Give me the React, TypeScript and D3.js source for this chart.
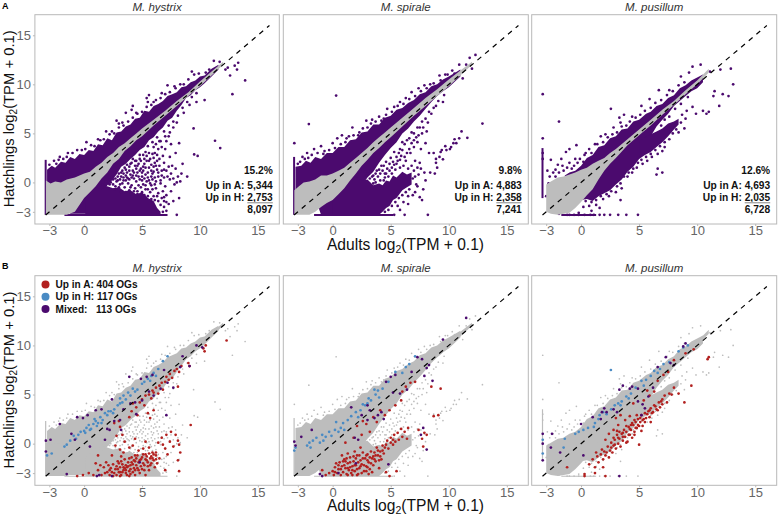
import * as d3 from "d3";
import { useEffect, useRef } from "react";

type Pt = [number, number];
type Env = [number, number, number]; // x, low edge, high edge of a dense part of the cloud

const tickValues = [-3, 0, 5, 10, 15];
const species = ["M. hystrix", "M. spirale", "M. pusillum"];
const floorValue = -3.32;
const diagonal: Pt[] = [[-3.32, -3.32], [16, 16]];

const statPercent = ["15.2%", "9.8%", "12.6%"];
const statUpA = ["5,344", "4,883", "4,693"];
const statUpH = ["2,753", "2,358", "2,035"];
const statTotal = ["8,097", "7,241", "6,728"];

const legendLabels = ["Up in A: 404 OGs", "Up in H: 117 OGs", "Mixed:   113 OGs"];

// M. hystrix
const hystrixMain: Env[] = [[-3.2,-1,1.3],[-2.8,-1,1.7],[-2.5,-1,1.5],[-2,-1.5,2.1],[-1.6,-2,2],[-1.2,-3.2,2.6],[-0.8,-3.2,2.4],[-0.4,-3.2,2.9],[0,-3.2,2.8],[0.4,-3.2,3.3],[0.8,-3.2,3.2],[1.2,-2.6,3.9],[1.6,-1.4,3.8],[2,-0.3,4.5],[2.4,0.2,4.3],[2.8,0.8,5.1],[3.2,1.6,5.2],[3.6,1.9,5.7],[4,2.4,5.9],[4.4,2.8,6.5],[4.8,3.3,6.6],[5.2,3.6,7.3],[5.6,4.3,7.2],[6,4.6,7.8],[6.4,5.2,8],[6.8,5.6,8.3],[7.2,6.3,8.8],[7.6,6.6,9],[8,7.3,9.2],[8.4,7.9,9.7],[8.8,8.6,9.8],[9.2,8.9,10.2],[9.6,9.4,10.4],[10,9.7,10.8],[10.4,10.1,10.9],[11,10.8,11.6],[11.6,11.5,12]];
const hystrixLower: Env[] = [[0.1,-3.3,-1.4],[0.6,-3.3,-0.9],[1,-3.3,-0.5],[1.5,-3.3,-0.7],[2,-3.3,-0.4],[2.5,-3.3,-0.6],[3,-3.3,-0.5],[3.5,-3.3,-0.9],[4,-3.3,-0.8],[4.5,-3.3,-1.2],[5,-3.3,-1],[5.5,-3.3,-1.6],[6,-3.3,-1.9],[6.3,-3.3,-2.6],[6.6,-3.3,-3]];
const hystrixBand: Env[] = [[-3.3,-3.3,0.2],[-2.9,-3.3,-0.1],[-2.5,-3.3,0.1],[-2,-3.3,0],[-1.5,-3.3,0.3],[-0.8,-3,0.5],[0,-1.6,0.9],[0.5,-1,1.1],[1,-0.4,1.6],[1.5,0.4,2],[2,1,2.6],[2.5,1.9,3],[3,2.4,3.6],[3.5,3.2,4],[4,3.7,4.5],[4.5,4.3,5],[5,4.7,5.5],[6,5.8,6.4],[7,6.8,7.3],[8,7.8,8.3],[9,8.8,9.2],[10,9.8,10.3],[11,10.9,11.3],[12,12,12.3]];
const hystrixWallY: Pt = [-3.3, 2.3];
const hystrixWallX: Pt = [-1.7, 7.2];
const hystrixPoints: Pt[] = [[-2.6,2.2],[-2.1,2.6],[-1.4,3],[-0.6,3.3],[0.2,4.1],[0.6,3.8],[1.2,4.4],[1.9,5.2],[2.4,5.2],[2.8,6.3],[3,6],[3.3,6.1],[3.6,7.1],[4.1,7.4],[4.2,7.8],[4.5,7.1],[5.5,8.2],[5.4,8.6],[5.6,8.9],[6,8.2],[6.7,9.1],[7.2,9.9],[7.8,9.8],[8.3,10],[9.3,11.3],[9.5,11],[10.1,10.6],[10.5,11.2],[11.2,12.4],[11.7,12.3],[12.2,11.5],[12.4,11.7],[13,11.9],[13.3,12.2],[13.2,11.5],[12.8,9],[13.9,10.4],[12.6,10.9],[9.45,5.5],[11.3,4.25],[11.75,3.5],[9.5,2.85],[9.8,2.7],[8.5,1.9],[8,-3.3],[8.4,0.9],[8.9,0.6],[10.4,8.4],[9.7,8.2],[9.1,7.9],[8.6,7.1],[8,6.1],[7.7,5.6],[7.4,5.1],[7,4.7],[6.6,4.2],[6.2,3.9],[5.6,3],[5.2,2.4],[4.8,2.8],[4.4,1.7],[4.1,2],[3.7,1],[3.4,0.5],[2.9,0.2],[2.5,-0.2],[2.2,0.3],[1.8,-0.4],[3.1,-0.2],[3.8,-0.1],[4.3,0.4],[4.7,-0.3],[5,0.6],[5.4,0.1],[5.9,0.9],[6.3,1.3],[6.7,0.7],[7.1,1.2],[7.5,0.9],[7.9,1.4],[8.1,0.6],[8.3,0.1],[7.8,-0.2],[7.4,0.3],[7,-0.4],[6.6,-0.1],[6.2,-0.6],[5.8,-0.3],[5.3,-0.7],[4.9,-0.5],[4.4,-0.6],[3.9,-0.8],[3.5,-0.5],[7.5,-0.9],[7.1,-1.3],[6.7,-1.6],[6.4,-1.1],[6,-1.4],[5.7,-1],[7.7,-1.9],[8.2,-1.6],[7.3,-2.2],[6.9,-2.5],[6.3,2.2],[5.8,1.8],[5.1,1.6],[4.6,1],[4,0.8],[5.5,1],[6.9,2],[7.4,2.6],[7.9,3],[8.2,4],[6.1,3],[5.3,3.1],[4.5,2.2],[3.6,0.2],[3.2,0.6],[2.7,-0.4],[2.1,-0.1]];
const hystrixSpeckle: Pt[] = [[2.4,0.6],[2.7,0.4],[3,0.9],[3.3,1.2],[3.6,1.3],[3.9,1.6],[4.2,1.2],[4.2,2.4],[4.5,1.4],[4.7,1.9],[4.9,2.2],[5,1],[5.2,1.9],[5.4,2.7],[5.6,1.5],[5.7,2.4],[5.9,2.9],[6,3.6],[6.1,2],[6.3,2.8],[6.4,3.4],[6.5,4.2],[6.7,3.6],[6.8,2.7],[7,3.4],[7.1,4.2],[7.3,4.7],[7.5,3.9],[3,-0.5],[3.3,-0.1],[3.6,0.7],[3.8,0.4],[4.1,-0.3],[4.2,0.7],[4.5,0.1],[4.8,0.3],[4.9,1.4],[5.2,0.4],[5.3,-0.3],[5.5,0.5],[5.7,-0.1],[5.9,0.3],[6.1,0.5],[6.1,-0.2],[6.4,0.6],[6.5,1.7],[6.6,0.2],[6.9,0.5],[6.9,1.3],[7.2,0.6],[7.3,1.6],[7.6,1.7],[7.7,0.4],[8,0],[3.2,-1],[3.6,-1],[4,-1.2],[4.3,-0.9],[4.6,-1.2],[5,-1],[5.2,-1.3],[5.5,-1.4],[5.8,-1.7],[6.1,-1.8],[6.4,-1.9],[6.6,-2.3],[6.9,-1.9],[7.1,-2],[6.8,-3],[7.1,-2.9],[2.6,-0.7],[2.2,-0.2],[1.9,0.1],[1.6,-0.2],[1.4,-0.3],[-3,1.8],[-2.4,1.9],[-2.2,2.3],[-1.8,2.4],[-1.5,2.6],[-1,3],[-0.2,3.3],[0.1,3.4],[0.9,3.7],[1.4,4.3],[1.7,4.4],[2.2,4.9],[2.6,5],[3,5.6],[3.4,5.8],[3.8,6.2],[4.2,6.6],[4.6,7],[5,7.2],[5.4,7.7],[5.8,7.9],[6.2,8.4],[6.6,8.6],[7,9],[7.4,9.2],[7.9,9.6],[8.6,10],[9,10.5],[9.9,11.1],[10.8,11.5],[6.9,5.2],[7.3,5.8],[7.7,6.2],[8.1,6.8],[8.5,7.6],[8.9,8.2],[9.3,8.7],[9.7,9.1],[6.3,4.6],[5.9,4.1],[5.5,3.7],[2.3,0],[2.5,0.3],[2.8,0.1],[2.9,0.6],[3.1,0.3],[3.2,1],[3.4,0.2],[3.4,0.9],[3.5,1.5],[3.7,0.5],[3.7,1.8],[3.9,0.3],[3.9,1.2],[4,1.9],[4.1,0.5],[4.3,1],[4.4,2.2],[4.5,0.7],[4.6,1.7],[4.7,0.6],[4.8,1.2],[4.8,2.4],[5,0.2],[5.1,1.2],[5.1,2.8],[5.3,0.8],[5.3,1.5],[5.4,2.2],[5.6,0.2],[5.6,2.2],[5.8,0.6],[5.8,1.2],[6,1.1],[6,1.6],[6,2.5],[6.2,0.1],[6.2,1.7],[6.4,1],[6.5,2.4],[6.7,1.2],[4,-0.5],[4.6,-0.9],[5.1,-0.2],[5.5,-0.7],[5.9,-0.7],[6.3,-1.4],[6.8,-0.9],[6.9,-1.5]];

// M. spirale
const spiraleMain: Env[] = [[-3.2,-1,1.6],[-2.7,-1,1.7],[-2.3,-1,2.2],[-1.9,-1,2],[-1.5,-1.6,2.6],[-1,-3.3,2.4],[-0.5,-3.3,3],[0,-3.3,3],[0.5,-3.3,3.6],[1,-2.5,3.6],[1.5,-1.9,4.3],[2,-1,4.4],[2.5,-0.3,5.1],[3,0.5,5.2],[3.5,1.1,5.9],[4,2,5.9],[4.5,2.8,6.6],[5,3.5,6.8],[5.5,4.1,7.4],[6,5,7.6],[6.5,5.5,8.1],[7,6.2,8.4],[7.5,6.8,9],[8,7.5,9.2],[8.5,8.2,9.8],[9,8.8,10],[9.5,9.3,10.5],[10,9.7,10.8],[11,10.8,11.5]];
const spiraleLower: Env[] = [[0,-3.3,-1],[0.5,-3.3,-0.2],[1,-3.3,0.3],[1.5,-3.3,0.2],[2,-3.3,0.6],[2.5,-3.3,0.2],[3,-3.3,0.3],[3.5,-3.3,-0.3],[4,-3.3,-0.1],[4.3,-3,-0.3],[4.6,-2.6,0.2],[4.9,-2.4,0.1],[5.2,-1.8,0.7],[5.5,-1.6,0.5],[6,-0.8,1.1],[6.4,-0.5,0.8],[6.8,-0.2,1]];
const spiraleBand: Env[] = [[-3.3,-3.3,-0.8],[-2.9,-3.3,-0.4],[-2.5,-3.3,0],[-2,-3.3,0.1],[-1.5,-3,0.3],[-1,-2.5,0.7],[-0.5,-2.1,0.7],[0,-1.8,0.9],[0.5,-1.2,1.2],[1,-0.6,1.5],[1.5,0.2,2],[2,0.9,2.5],[2.5,1.7,3],[3,2.3,3.5],[3.5,3,4.1],[4,3.5,4.6],[4.5,4.1,5.1],[5,4.6,5.6],[6,5.7,6.6],[7,6.8,7.6],[8,7.8,8.6],[9,8.8,9.5],[10,9.8,10.5],[11,10.9,11.4],[12,12,12.3]];
const spiraleWallY: Pt = [-3.3, 2.6];
const spiraleWallX: Pt = [-1.6, 5.2];
const spiralePoints: Pt[] = [[-2.05,5.95],[0.3,8.85],[12.9,6],[-3.3,4],[11.6,4.55],[11.1,5.2],[10.4,4],[10.65,4],[9.8,3.3],[10.1,3.4],[9.2,2.6],[9.5,2.35],[8.9,2.4],[8.7,3],[8.3,3],[9,1.5],[7.9,1],[7.6,1.4],[7.4,0.8],[8,0.2],[7.8,-0.7],[7.2,-0.2],[7.7,-1.8],[6.5,-2.2],[5.8,-2.8],[5.3,-3.3],[6.2,-3.3],[8.2,-3.3],[-2.6,2.6],[-2.2,3],[-1.6,3.4],[-1,3.7],[-0.7,3.2],[0,4],[0.4,4.5],[0.8,4.8],[1.2,4.5],[1.7,5.6],[2.3,5.1],[2.9,6.3],[3.4,6.4],[4,6.7],[4.4,6.5],[4.7,7.5],[5.3,7.7],[5.8,8.2],[6.3,8.6],[6.8,9.2],[7.4,9.6],[7.9,9.9],[8.4,10],[9.2,10.9],[9.7,11],[10.3,11.4],[10.9,12],[11.5,12],[11.2,10.6],[12,11.6],[11.8,12.7],[12.3,13],[9.5,8.2],[8.9,7.8],[8.5,7],[8,6.5],[7.5,5.6],[7,5],[6.6,4.5],[6.2,3.9],[5.8,3.4],[5.3,3.1],[5,2.5],[4.6,2.1],[4.2,1.7],[3.8,1.2],[5.5,1.9],[6.3,2.2],[6.7,3],[5.9,2.7],[5.1,1.5],[4.5,0.9],[3.5,0.7],[3,0.9],[7.1,2.2],[7.6,3.4],[8,4],[8.1,5.2],[7.3,4.1]];
const spiraleSpeckle: Pt[] = [[-3,1.9],[-2.8,2.1],[-2.4,2.4],[-2.1,2.5],[-1.8,2.8],[-1.3,3],[-0.8,2.9],[-0.3,3.3],[0.2,3.5],[0.7,3.9],[1.1,4.1],[1.4,4.7],[1.8,4.8],[2.2,4.8],[2.6,5.5],[3,5.6],[3.3,6],[3.7,6.2],[4.2,6.3],[4.6,6.9],[5.1,7.2],[5.6,7.8],[6.1,8],[6.6,8.5],[7.1,8.8],[7.6,9.3],[8.1,9.6],[8.7,10.1],[9.3,10.4],[9.9,11],[10.5,11.1],[3.2,0.4],[3.6,0.3],[3.9,0.6],[4.1,0.9],[4.3,1.2],[4.7,1.4],[4.9,1.9],[5.2,2.1],[5.5,2.6],[5.7,3],[6,3.3],[6,4.1],[6.4,3],[6.4,4.3],[6.8,4],[6.8,5.1],[7.2,4.6],[7.3,5.6],[7.7,5],[7.7,6.2],[8.2,6.1],[8.3,7.2],[8.7,7.6],[9.1,8.3],[9.6,8.9],[4.4,0.2],[4.8,0.6],[5.1,0.9],[5.4,1.3],[5.8,1.5],[6.1,1.7],[6.5,1.4],[6.8,1.7],[7,1.2],[7.3,1.5],[7.5,2],[6.9,0.4],[7.1,0.6],[7.3,-0.4],[6.6,-0.7],[6.3,-1],[6,-1.3],[5.7,-1.6],[5.4,-2],[5.1,-2.4],[4.8,-2.8],[4.5,-3],[6.5,-1.4],[6.9,-1.3],[7.1,-1],[7.5,-1.5],[6.1,-2],[5.6,-2.4],[8.4,1],[8.8,0.9],[8.9,2],[9.3,3.1],[9.7,3.7],[9.4,3.3],[10.2,3.6],[10.5,4.4],[10.9,4.5],[3.5,-0.1],[2.9,0.7],[2.4,1.1],[2.8,1.1],[2.1,1],[1.6,0.6],[3.3,1.2],[3.1,0.9],[3.4,0.6],[3.7,0.9],[4,1.3],[4.4,1.7],[4.6,0.9],[4.9,1.2],[5.3,1.8],[5.6,2.2],[5.8,2.3],[6.2,2.6],[6.6,3.4],[7,3.6],[7,4.3],[7.4,4.8],[7.8,5.6],[3.7,0],[4.1,0.2],[4.5,0.5]];

// M. pusillum
const pusillumMain: Env[] = [[-1.4,-0.3,0.7],[-1,-0.5,1],[-0.5,-0.9,1.2],[0,-1.8,1.7],[0.5,-1.7,2.5],[1,-1.9,2.8],[1.5,-1.4,3.6],[2,-1.1,3.8],[2.5,-0.8,4.5],[3,-0.2,4.7],[3.5,0.3,5.4],[4,1.1,5.5],[4.5,1.6,6.2],[5,2.4,6.4],[5.6,3.6,7],[6,4.7,7.2],[6.5,5.7,7.8],[7,6.4,8],[7.5,7,8.6],[8,7.8,8.9],[8.5,8.3,9.6],[9,8.8,9.9],[9.5,9.3,10.4],[10,9.6,10.7],[10.5,10.2,11]];
const pusillumRidge: Env[] = [[5,2.4,4.2],[5.5,2.8,4.6],[6,3.1,4.9],[6.5,3.6,5.2],[7,4.1,5.5],[7.5,4.7,6],[8,5.4,6.2],[8.4,5.9,6.5]];
const pusillumBand: Env[] = [[-3,-3,-0.2],[-2.6,-3.2,0.1],[-2,-3.3,0.5],[-1.5,-3.2,0.6],[-1,-3.1,0.8],[-0.5,-2.6,1],[0,-2,1.3],[0.5,-1.3,1.5],[1,-0.7,1.9],[1.5,0.3,2.2],[2,1.2,2.5],[2.5,1.9,3],[3,2.5,3.4],[4,3.8,4.4],[5,4.8,5.4],[6,5.8,6.4],[7,6.9,7.4],[8,7.9,8.3],[9,9,9.4],[10,10,10.4],[11,11.2,11.6]];
const pusillumWallY: Pt = [-1.6, 3.5];
const pusillumWallX: Pt = [-1.7, 1.3];
const pusillumPoints: Pt[] = [[-3.3,9],[-1.9,6.2],[2.57,7.5],[-3.3,4.5],[-2.6,2.3],[-2,1.8],[-1.7,2.4],[-1.3,3.1],[-1,3.4],[-0.4,3.8],[-1.5,1.2],[-2.4,1],[-2.2,0.6],[-0.8,1.4],[-0.3,2],[0.3,2.8],[0.7,3.4],[1.2,3.9],[1.7,4.7],[2.1,4.9],[2.8,5.6],[3.4,6.1],[3.3,6.6],[3.7,6.9],[4.4,6.7],[5.2,7.8],[5.9,8.5],[6.7,9.4],[7.6,9.4],[8.6,10.8],[9.3,11.2],[9.6,11.8],[10.3,12],[11.1,11.3],[12,11.5],[12.9,11.6],[13.1,10],[11.5,9.3],[11.4,8.8],[12.2,9],[12.7,8.8],[11.9,7.8],[11,7.2],[10.8,7],[10.5,7.3],[9.9,7],[9,6.5],[9.6,7.7],[9.1,7.3],[8.7,6.9],[7.7,5.2],[8.4,5.1],[8.9,5.5],[7.2,3.6],[7,3.2],[6.6,2.9],[6.1,2.6],[5.7,2.2],[5.3,1.9],[4.8,1.5],[4.4,1],[4,0.6],[3.5,-0.6],[3,-1],[2.4,-1.4],[1.9,-1.7],[1.3,-2.3],[0.7,-2.4],[3.4,-1.8],[1.6,-2.6],[6.6,1.4],[7,1],[6.5,0.8],[-1.2,-3.3],[1.6,-3.3],[2,-3.3],[2.5,-3.3],[3.2,-3.3],[3.9,-3.3],[4.9,-3.3],[0.9,-2.9],[-0.2,-3.1]];
const pusillumSpeckle: Pt[] = [[-2.2,1.3],[-1.9,1],[-1.6,1.7],[-1.2,1.5],[-1,2],[-0.6,1.7],[-0.5,2.4],[-0.1,2.4],[0.2,2.1],[0.4,3],[0.9,3],[1.4,3.9],[1.9,4.1],[2.3,4.6],[2.7,4.9],[3.1,5.1],[3.5,5.7],[3.9,5.8],[4.2,6.2],[4.7,6.6],[5.1,6.9],[5.5,7.3],[6,7.6],[6.4,8.1],[6.9,8.4],[7.4,8.9],[7.9,9.3],[8.4,9.9],[8.9,10.2],[0.4,-1.9],[0.9,-2],[1.3,-1.8],[1.7,-1.4],[2.2,-1.2],[2.6,-0.9],[3.1,-0.4],[3.4,-0.1],[3.7,0.6],[4.1,1],[4.5,1.4],[4.9,2],[5.2,2.3],[5.6,2.6],[6,2.9],[6.4,3.3],[6.8,3.7],[7.2,4.1],[7.6,4.4],[7.9,5],[8.2,5.4],[8.6,6.1],[6.9,5.8],[7.2,6.4],[7.6,6.7],[8.1,7.5],[8.6,8],[9.2,8.7],[-3.3,3],[-3.3,2.4],[-2.9,1.2],[-2.7,0.6],[-2.8,-0.1],[-3,-1.4],[-2.6,-2.6],[-1.9,-3.2],[-1,-3.3],[-0.6,-3.3],[-0.2,-3.3],[0.3,-3.3],[0.8,-3.3],[1.1,-3.3],[0.2,-2.5]];

// Orthologous groups, panel B
const hystrixRed: Pt[] = [[4.2,4.1],[4.5,3.7],[4.8,4.2],[5,4.5],[5.2,3.9],[5.3,4.9],[5.6,5],[5.8,4.6],[5.9,5.4],[6,5.2],[6.2,5.7],[6.4,5.1],[6.5,5.9],[6.7,6.2],[6.8,5.5],[7,6.3],[7.1,6.8],[7.3,6.5],[7.4,7.1],[7.6,6.7],[7.8,7.4],[8,7.6],[8.2,7.3],[8.4,7.9],[8.1,5.8],[9.1,7.9],[9,8.2],[10.3,9.7],[10.5,10],[10.4,9.4],[12.3,10.5],[9.2,1.9],[5.5,3.1],[6,3.4],[5.7,2.6],[4.6,2.9],[4.1,3.3],[3.9,2.7],[3,2.3],[3.1,1.7],[2.6,2.1],[2.8,0.8],[3.3,0.9],[2.7,-0.2],[3.1,-0.6],[3.5,0.2],[3.4,-0.9],[3.9,-0.4],[4.2,-0.2],[4.4,0.5],[4.7,-0.7],[5.1,-0.5],[5.3,0.2],[5.6,-0.4],[6.4,0.1],[6.7,0.6],[7.1,0.9],[7.5,1.2],[7.9,0.9],[8.1,0.3],[8.2,-0.1],[7.7,-0.3],[7.4,0.2],[7,-0.5],[6.8,-0.1],[7.2,-1.1],[8.1,-1.7],[8.3,-0.9],[6.2,-1.2],[6.5,-1.5],[1,-2],[1.2,-2.7],[1.5,-3.2],[1.7,-2.4],[1.9,-1.9],[2,-2.9],[2.2,-3.2],[2.3,-2.5],[2.5,-2.1],[2.6,-3],[2.7,-2.6],[2.9,-1.8],[3,-2.9],[3.1,-2.4],[3.2,-3.2],[3.3,-2.1],[3.4,-2.7],[3.5,-1.6],[3.6,-3],[3.7,-2.4],[3.8,-1.9],[3.9,-2.8],[4,-2.2],[4.1,-1.4],[4.2,-2.9],[4.3,-2.5],[4.4,-1.8],[4.5,-2.2],[4.6,-1.2],[4.7,-2.7],[4.8,-1.7],[4.9,-2.3],[5,-1.4],[5.1,-2],[5.2,-2.7],[5.3,-1.1],[5.4,-1.7],[5.5,-2.3],[5.6,-1],[5.7,-1.5],[5.8,-2],[5.9,-0.9],[6,-1.7],[6.1,-2.4],[6.2,-1.6],[6.3,-2],[2.1,-2.2],[2.8,-3.2],[3.3,-2.9],[3.6,-2.2],[4,-3.1],[4.4,-2.7],[4.8,-3],[5.3,-3.2],[5.6,-2.7],[4.1,-1.9],[4.5,-1.5],[3.2,-1.3],[2.4,-1.2],[1.2,-1.2],[0.8,-3.2],[-0.6,-3.3],[-0.1,-3.2],[0.4,-3],[3.9,-3.3],[2.5,-3.3],[3.1,-3.3],[7,-2.7],[8.2,-2.8],[2.4,-2.9],[2.8,-2.3],[3,-2],[3.4,-2.4],[3.6,-2.7],[3.8,-2.3],[4,-2.6],[4.2,-2.1],[4.3,-1.7],[4.6,-2.5],[4.7,-1.9],[4.9,-1.6],[5,-2.6],[5.2,-2.2],[5.4,-1.3],[5.5,-1.9],[5.7,-2.2],[5.8,-1.3],[6,-1.1],[4.4,-3.2],[3.7,-3.2],[3.5,-2.5],[3.1,-2.9],[2.9,-2.6],[2.2,-2.7],[1.8,-3],[1.4,-2.2],[3.2,-1.8],[3.9,-1.5],[4.4,-1.2],[5.1,-1.1],[5.3,-1.6],[5.9,-1.5],[6.2,-0.9]];
const hystrixBlue: Pt[] = [[-3.2,-1.2],[-2.8,-1],[-1.7,-0.3],[-1.5,-0.1],[-1.2,0.3],[-0.9,0.8],[-0.7,0.5],[-0.3,1.2],[0,1.3],[0.2,1.6],[0.4,1.9],[0.6,1.5],[0.8,2],[1,2.3],[1.2,2.1],[1.4,2.7],[1.6,2.4],[1.8,3.1],[2,2.9],[2.3,3.3],[2.6,3.5],[2.9,3.9],[3.1,4.6],[3.4,4.9],[3.6,4.5],[3.8,5.2],[4.2,5.6],[4.6,5.5],[5,6.1],[5.5,6.6],[6,7.2],[6.4,7.6],[6.8,8.4],[7.2,8.9],[-0.5,0.9],[0.9,2.5],[3.3,4.2],[5.8,6.9],[0.1,1.1],[0.5,1.4],[1.1,1.8],[1.5,2.1],[2.1,3.3],[2.5,3.1],[3.1,4.1],[4,4.9],[4.4,5.3],[5.2,6.3],[5.7,6.4],[6.2,6.9]];
const hystrixMixed: Pt[] = [[-3.3,0.3],[-3.3,-0.8],[-2.9,0.4],[-2.1,2],[-1.1,1],[-0.8,0.4],[-0.6,2.7],[-0.1,2.6],[0.3,2.9],[0.5,-0.3],[1,3.4],[1.5,3.5],[2,1.5],[2.6,2.3],[2.4,4.5],[3.2,1.4],[3.4,3.5],[3.9,6.8],[4.5,3],[4.4,4.2],[4.9,6.6],[5.4,6.8],[5.9,7],[6,4.9],[6.6,5.6],[7.2,6.2],[7.7,5.7],[8.3,7.8],[9.1,7.9],[8.5,8.9],[9.7,10],[10.2,9.8],[1.1,-3.3],[-1.5,-3.1],[2.2,1.4],[3.1,2.4],[2.4,-3.3],[7.1,2.9],[4.8,-1.9],[6.9,7.5],[4,4.1],[5,4.4],[5.6,5.3],[1.8,0.4],[1.3,-3.2]];
const spiraleRed: Pt[] = [[-0.9,-2.7],[-0.6,-3.2],[-0.3,-3],[0,-2.8],[0.1,-3.2],[0.2,-2.4],[0.4,-3],[0.5,-2.6],[0.6,-1.9],[0.7,-3.2],[0.8,-2.3],[0.9,-2.9],[1,-1.6],[1.1,-2.5],[1.2,-3.1],[1.3,-2],[1.4,-2.7],[1.5,-1.4],[1.6,-3],[1.7,-2.3],[1.8,-1.8],[1.9,-2.8],[2,-2.2],[2.1,-1.2],[2.2,-3.1],[2.3,-2.5],[2.4,-1.7],[2.5,-2.1],[2.6,-0.9],[2.7,-2.8],[2.8,-1.5],[2.9,-2.3],[3,-1.1],[3.1,-1.9],[3.2,-2.6],[3.3,-0.8],[3.4,-1.5],[3.5,-2.2],[3.6,-0.9],[3.7,-1.8],[3.8,-0.4],[3.9,-1.2],[4,-2.5],[4.1,-0.8],[4.2,-1.6],[4.3,-0.2],[4.4,-1],[4.5,-0.4],[4.6,-2.9],[4.7,0.3],[4.8,-0.5],[4.9,-3.3],[5,0.6],[5.2,-0.1],[5.3,0.9],[5.4,0.2],[5.6,1.1],[5.7,0.4],[5.9,1.5],[6,0.7],[6.2,1.2],[6.4,0.5],[6.5,1.6],[5.5,-2.8],[0.3,-2],[1.3,-3.2],[2.5,-3],[3.1,-3.1],[1.5,-2.4],[2.9,-1.2],[3.4,-2.9],[2,-1.5],[0.8,-1.2],[1.9,-0.8],[2.4,-0.4],[1.8,0.6],[2.5,0.9],[2.1,1.8],[2.9,2],[3.2,1.2],[3.5,2.7],[3.8,2.2],[4.1,3.4],[4.5,2.9],[4.9,3.4],[5.4,3.9],[5.9,4.4],[6,5.3],[6.3,5.8],[6.7,6.2],[7.1,6.3],[8.5,5.8],[9.3,5.6],[8.7,2.8],[9.1,2.9],[7.4,1.4],[7.9,1.1],[7.7,0.5],[8.1,0.9],[7.8,-0.3],[2.6,2.3],[1.3,-1],[1.1,0.1],[0.2,-2.9],[0.5,-2.2],[0.7,-2.6],[1,-2.2],[1.1,-1.8],[1.3,-2.5],[1.5,-1.9],[1.7,-2.7],[1.9,-2.2],[2.1,-2.6],[2.2,-1.9],[2.4,-2.3],[2.6,-1.5],[2.7,-2.2],[2.9,-2.8],[3,-1.7],[3.2,-1.4],[3.3,-2],[3.5,-1.3],[3.7,-1.2],[3.9,-0.7],[4.1,-1.3],[4.3,-0.7],[2.3,-1.2],[1.8,-1.3],[1.2,-1.5],[0.9,-1.8],[2.1,-3.2],[1.7,-3.2],[3,-2.4],[3.6,-1.6],[4,-1.7],[4.6,-0.1],[5,0.1],[5.2,0.4]];
const spiraleBlue: Pt[] = [[-3.3,-0.7],[-3.2,-0.4],[-2.2,-0.2],[-2,0.1],[-1.7,0.3],[-1.4,0.6],[-1.1,0.1],[-0.9,0.9],[-0.6,0.7],[-0.3,1.2],[-0.1,0.8],[0.2,1.4],[0.3,2.2],[0.7,1.6],[0.9,2.1],[1.3,2.4],[1.6,2.8],[2,3.2],[2.4,3.4],[2.8,3.9],[3.1,4.6],[3.3,4.4],[3.7,5],[4,4.7],[4.3,5.6],[4.8,6.3],[5.4,7.3],[6,7.2],[6.3,7.8],[7.1,8.9],[3.6,5.5],[1,1.4],[-1.9,-0.4],[-0.8,0.3],[0.5,1.2],[2.2,2.7],[2.6,4],[3,4.1],[3.9,5.4],[6.6,8.1]];
const spiraleMixed: Pt[] = [[-3.3,0.2],[-3.2,-0.2],[-1.8,1.4],[-2.7,0.7],[-0.9,-3.3],[-1.1,-3.1],[0.5,-3],[1.6,3.7],[1.9,0.6],[2.2,0.4],[2.5,2.9],[3,2.4],[3.2,3.4],[3.6,2.6],[3.9,2.9],[4.2,3.2],[4.4,2.5],[4.6,6.3],[5,6.8],[5.4,7],[5.2,5.2],[5.8,5.1],[6.4,5.5],[6.8,7.3],[7.3,8.8],[7.7,8.6],[7.9,6.9],[8.1,7.7],[8.6,6.4],[8.3,8],[9.5,10.6],[11.5,12.8],[7.8,1.6],[7.6,0.9],[8.1,-0.6],[4.8,-2.1],[3,3.9],[2,-2]];
const pusillumRed: Pt[] = [[0.7,-2.1],[1,-1.6],[1.2,-2.4],[1.3,-0.9],[1.4,-1.3],[1.5,-1.9],[1.7,-1.1],[1.8,-0.6],[1.9,-1.6],[2,-0.8],[2.1,-1.2],[2.3,-0.3],[2.4,-1.4],[2.5,-0.7],[2.6,0.1],[2.7,-0.9],[2.8,-0.2],[2.9,0.4],[3,-0.5],[3.1,0.9],[3.2,0],[3.3,0.5],[3.4,-0.3],[3.5,1],[3.6,0.3],[3.7,1.4],[3.8,0.7],[3.9,1.2],[4,0.2],[4.1,1.7],[4.2,0.9],[4.3,1.4],[4.4,0.6],[4.5,1.9],[4.6,1.2],[4.7,2.2],[4.8,1.6],[4.9,2.5],[5,1.8],[5.1,2.2],[5.2,2.9],[5.3,1.8],[5.4,2.5],[5.5,3.1],[5.6,2.6],[5.8,3.3],[5.9,2.7],[6,3.6],[6.2,3.2],[6.3,3.9],[6.5,3.5],[6.7,4.2],[6.8,3.7],[7,4.5],[7.2,4.9],[7.4,4.2],[7.6,5.1],[7.8,5],[8,5.7],[8.4,5.1],[8.9,4.2],[9.5,5.9],[7,4],[6,2.2],[5,-0.1],[4.2,2.8],[3.8,2.4],[3.4,2.9],[3,2.6],[3.2,1.9],[2.8,1.4],[2.4,1],[2.1,0.4],[4.5,4.1],[5.4,4.4],[5.7,5.4],[5.9,4.9],[6.3,5.3],[6.6,6.4],[7.1,7],[7.5,7.3],[8,8.5],[9,9.2],[9.7,9.6],[11,8.8],[10.9,8.6],[1.9,-2.4],[1.2,-3],[0.3,-3.1],[-1.2,-2.4],[0.3,-3.3],[2.1,-3.3],[4.6,0.9],[3.3,1.2],[3.9,0.1],[4.8,2.9],[5.2,1.3],[3.6,1.1],[3.9,1.8],[4.2,1.5],[4.4,2.1],[4.7,1.6],[4.9,1.9],[5.1,2.6],[5.3,2.4],[5.5,2.2],[5.7,3],[5.9,3.4],[6.1,3.1],[6.4,3.8],[6.6,3.4],[6.9,4.3],[3.2,0.6],[2.9,-0.1],[2.6,-0.4],[2.2,-0.9],[3.6,0.7],[4.1,0.9],[4.3,1.9],[4.6,2.4],[3.1,1.3],[2.8,0.6]];
const pusillumBlue: Pt[] = [[-3.3,-1],[-3.3,0.4],[-1.5,-0.4],[-1.4,0.5],[-0.5,1],[-0.2,1.2],[0.2,1.4],[0.6,1.6],[1.2,2.1],[1.5,2.5],[1.9,3.2],[2.57,7.5],[2.6,3.5],[2.9,3.9],[3.2,4.1],[3.5,4.3],[3.9,4.8],[4.3,5.1],[4.7,5.7],[5.2,6.4],[5.6,6.5],[6,6.9],[6.3,7.4],[6.8,7.6],[7.1,8.1],[7.6,8.3],[8.4,9.4],[8.8,9.8],[9.2,10],[1.1,1.7],[3.4,3.9],[1.6,2.9],[2.2,3],[4.1,4.6],[5.4,5.9],[6.6,7.2]];
const pusillumMixed: Pt[] = [[-3.3,1],[-3.3,0],[-3.3,-1.7],[-2.5,1],[-2.6,-0.4],[-1.8,-0.9],[0,2],[1,2.7],[1.7,2.5],[1.8,3.2],[2.2,3.2],[2,3.6],[2.8,3.5],[3.1,3.2],[3.3,5.5],[3.6,5.9],[4.2,5.6],[4.9,5.6],[4.9,4.3],[5.3,4],[5.5,3.6],[5.8,4.8],[6.2,5.7],[5.2,2.9],[6.6,7.8],[7.3,8.8],[7.7,8.2],[8,8],[8.8,9.9],[9,10.2],[3.3,-3.3],[0.2,-1.2],[4.4,5.8]];

const redColor = "#b2201f";
const blueColor = "#4a8bc4";
const mixedColor = "#4b0a6e";
const cloudPurple = "#4b0a6e";
const bandGray = "#bdbdbd";

type Panel = {
  main: Env[];
  lower: Env[];
  band: Env[];
  wallY: Pt;
  wallX: Pt;
  points: Pt[];
  speckle: Pt[];
  red: Pt[];
  blue: Pt[];
  mixed: Pt[];
};

const panels: Panel[] = [
  { main: hystrixMain, lower: hystrixLower, band: hystrixBand, wallY: hystrixWallY, wallX: hystrixWallX, points: hystrixPoints, speckle: hystrixSpeckle, red: hystrixRed, blue: hystrixBlue, mixed: hystrixMixed },
  { main: spiraleMain, lower: spiraleLower, band: spiraleBand, wallY: spiraleWallY, wallX: spiraleWallX, points: spiralePoints, speckle: spiraleSpeckle, red: spiraleRed, blue: spiraleBlue, mixed: spiraleMixed },
  { main: pusillumMain, lower: pusillumRidge, band: pusillumBand, wallY: pusillumWallY, wallX: pusillumWallX, points: pusillumPoints, speckle: pusillumSpeckle, red: pusillumRed, blue: pusillumBlue, mixed: pusillumMixed },
];

const columnX: Pt[] = [[34.9, 279.3], [283.3, 528.3], [531.7, 776.7]];
const rowY: Pt[] = [[224, 14.7], [485.3, 275.7]];
const xDomain: Pt = [-4.25, 16.85];
const yDomain: Pt = [-4.24, 17.1];
const FONT = "'Liberation Sans', Arial, sans-serif";

function axisTitle(sel: any, first: string, rest: string, sub: number) {
  sel.append("tspan").text(first);
  sel.append("tspan").attr("dy", 3).attr("font-size", sub).text("2");
  sel.append("tspan").attr("dy", -3).text(rest);
}

export default function App() {
  const ref = useRef<SVGSVGElement | null>(null);

  useEffect(() => {
    if (!ref.current) return;
    const svg = d3.select(ref.current);
    svg.selectAll("*").remove();
    svg.attr("font-family", FONT);

    rowY.forEach((yRange, row) => {
      const isB = row === 1;
      panels.forEach((p, col) => {
        const x = d3.scaleLinear().domain(xDomain).range(columnX[col]);
        const y = d3.scaleLinear().domain(yDomain).range(yRange);
        const g = svg.append("g");
        const cloud = isB ? bandGray : cloudPurple;

        const area = d3
          .area<Env>()
          .x((d) => x(d[0]))
          .y0((d) => y(d[1]))
          .y1((d) => y(d[2]));

        g.append("path").attr("d", area(p.main)).attr("fill", cloud);
        g.append("path").attr("d", area(p.lower)).attr("fill", cloud);

        // floor and left wall: genes with zero expression in one stage
        g.append("line")
          .attr("x1", x(p.wallX[0]))
          .attr("x2", x(p.wallX[1]))
          .attr("y1", y(floorValue))
          .attr("y2", y(floorValue))
          .attr("stroke", cloud)
          .attr("stroke-width", isB ? 1.2 : 2);
        g.append("line")
          .attr("x1", x(floorValue))
          .attr("x2", x(floorValue))
          .attr("y1", y(p.wallY[0]))
          .attr("y2", y(p.wallY[1]))
          .attr("stroke", cloud)
          .attr("stroke-width", isB ? 1.2 : 2);

        g.append("g")
          .selectAll("circle")
          .data(p.points.concat(p.speckle))
          .join("circle")
          .attr("cx", (d) => x(d[0]))
          .attr("cy", (d) => y(d[1]))
          .attr("r", isB ? 0.85 : 1.35)
          .attr("fill", cloud);

        g.append("path").attr("d", area(p.band)).attr("fill", bandGray);

        if (isB) {
          [
            { pts: p.red, color: redColor },
            { pts: p.blue, color: blueColor },
            { pts: p.mixed, color: mixedColor },
          ].forEach((s) => {
            g.append("g")
              .selectAll("circle")
              .data(s.pts)
              .join("circle")
              .attr("cx", (d) => x(d[0]))
              .attr("cy", (d) => y(d[1]))
              .attr("r", 1.35)
              .attr("fill", s.color);
          });
        }

        g.append("path")
          .attr("d", d3.line<Pt>().x((d) => x(d[0])).y((d) => y(d[1]))(diagonal))
          .attr("fill", "none")
          .attr("stroke", "#000")
          .attr("stroke-width", 1.2)
          .attr("stroke-dasharray", "5 5");

        g.append("rect")
          .attr("x", columnX[col][0])
          .attr("y", yRange[1])
          .attr("width", columnX[col][1] - columnX[col][0])
          .attr("height", yRange[0] - yRange[1])
          .attr("fill", "none")
          .attr("stroke", "#b8b8b8")
          .attr("stroke-width", 1);

        const xAxis = g
          .append("g")
          .attr("transform", `translate(0,${yRange[0]})`)
          .call(d3.axisBottom(x).tickValues(tickValues).tickSize(2).tickPadding(0));
        xAxis.select(".domain").remove();
        xAxis.selectAll(".tick line").attr("stroke", "#b8b8b8");
        xAxis.selectAll("text").attr("fill", "#666").attr("font-size", 13).attr("font-family", FONT);

        if (col === 0) {
          const yAxis = g
            .append("g")
            .attr("transform", `translate(${columnX[col][0]},0)`)
            .call(d3.axisLeft(y).tickValues(tickValues).tickSize(2).tickPadding(2));
          yAxis.select(".domain").remove();
          yAxis.selectAll(".tick line").attr("stroke", "#b8b8b8");
          yAxis.selectAll("text").attr("fill", "#666").attr("font-size", 13).attr("font-family", FONT);

          const yTitle = g
            .append("text")
            .attr("transform", `translate(13.5,${(yRange[0] + yRange[1]) / 2 - 0.5}) rotate(-90)`)
            .attr("text-anchor", "middle")
            .attr("font-size", 14.8)
            .attr("fill", "#111");
          axisTitle(yTitle, "Hatchlings log", "(TPM + 0.1)", 10);
        }

        g.append("text")
          .attr("x", (columnX[col][0] + columnX[col][1]) / 2)
          .attr("y", yRange[1] - 3.5)
          .attr("text-anchor", "middle")
          .attr("font-style", "italic")
          .attr("font-size", 11.5)
          .attr("fill", "#333")
          .text(species[col]);

        if (!isB) {
          const right = columnX[col][1] - 6.5;
          const statLines = [
            { text: statPercent[col], dy: 174 },
            { text: `Up in A: ${statUpA[col]}`, dy: 188.7 },
            { text: `Up in H: ${statUpH[col]}`, dy: 200.5 },
            { text: statTotal[col], dy: 213 },
          ];
          statLines.forEach((l) => {
            g.append("text")
              .attr("x", right)
              .attr("y", l.dy)
              .attr("text-anchor", "end")
              .attr("font-weight", "bold")
              .attr("font-size", 10.2)
              .attr("fill", "#111")
              .text(l.text);
          });
          g.append("line")
            .attr("x1", right - 25.5)
            .attr("x2", right)
            .attr("y1", 202.7)
            .attr("y2", 202.7)
            .attr("stroke", "#a8a8a8")
            .attr("stroke-width", 1.4);
        }
      });

      const xTitle = svg
        .append("text")
        .attr("x", 405.5)
        .attr("y", yRange[0] + 25.5)
        .attr("text-anchor", "middle")
        .attr("font-size", 15.6)
        .attr("fill", "#111");
      axisTitle(xTitle, "Adults log", "(TPM + 0.1)", 10.5);

      svg.append("text")
        .attr("x", 2)
        .attr("y", isB ? 269 : 9)
        .attr("font-weight", "bold")
        .attr("font-size", 9)
        .attr("fill", "#000")
        .text(isB ? "B" : "A");
    });

    const legendColors = [redColor, blueColor, mixedColor];
    const legendY = d3.scalePoint<number>().domain([0, 1, 2]).range([284.5, 309]);
    legendLabels.forEach((label, i) => {
      svg.append("circle")
        .attr("cx", 45.5)
        .attr("cy", legendY(i) as number)
        .attr("r", 4)
        .attr("fill", legendColors[i]);
      svg.append("text")
        .attr("x", 55.5)
        .attr("y", (legendY(i) as number) + 3.5)
        .attr("font-weight", "bold")
        .attr("font-size", 10.1)
        .attr("fill", "#111")
        .attr("xml:space", "preserve")
        .style("white-space", "pre")
        .text(label);
    });
  }, []);

  return (
    <svg
      ref={ref}
      width={778}
      height={515}
      style={{ position: "absolute", left: 0, top: 0, display: "block", background: "#fff" }}
    />
  );
}
